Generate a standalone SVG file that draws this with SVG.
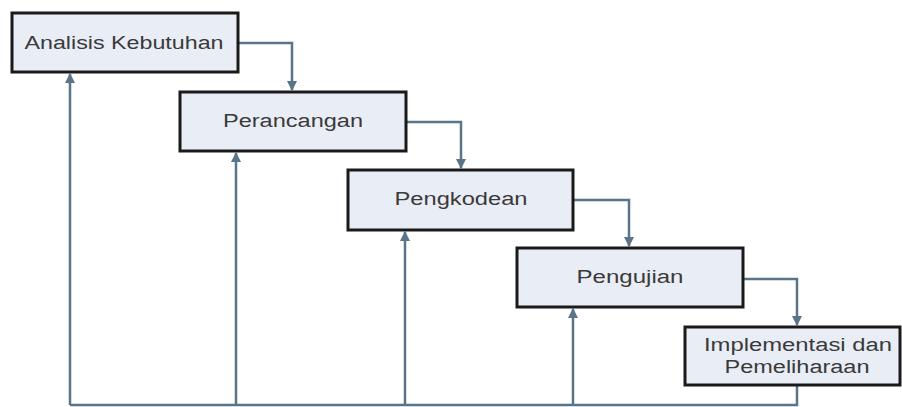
<svg xmlns="http://www.w3.org/2000/svg" width="902" height="407" viewBox="0 0 902 407">
<style>
.box{fill:#e9edf6;stroke:#1a1a1a;stroke-width:3}
.lbl{font-family:"Liberation Sans",Arial,sans-serif;font-size:18px;fill:#3a3a3a;text-anchor:middle;dominant-baseline:central}
.con{fill:none;stroke:#5a7488;stroke-width:2.5}
</style>
<defs>
<marker id="ah" viewBox="0 0 10 10" refX="9" refY="5" markerWidth="4" markerHeight="4" orient="auto" markerUnits="strokeWidth">
<path d="M0,0 L10,5 L0,10 z" fill="#5a7488"/>
</marker>
</defs>
<rect width="902" height="407" fill="#ffffff"/>
<g id="connectors">
<path class="con" d="M238,43 H292 V90" marker-end="url(#ah)"/>
<path class="con" d="M406,122 H461 V168" marker-end="url(#ah)"/>
<path class="con" d="M573,200 H629 V246" marker-end="url(#ah)"/>
<path class="con" d="M743,279 H797 V325" marker-end="url(#ah)"/>
<path class="con" d="M797,385 V405 H70"/>
<path class="con" d="M70,405 V74" marker-end="url(#ah)"/>
<path class="con" d="M236,405 V153" marker-end="url(#ah)"/>
<path class="con" d="M405,405 V232" marker-end="url(#ah)"/>
<path class="con" d="M573,405 V309" marker-end="url(#ah)"/>
</g>
<g id="n1"><rect class="box" x="12" y="13" width="226" height="59"/><text class="lbl" x="124" y="43" textLength="199" lengthAdjust="spacingAndGlyphs">Analisis Kebutuhan</text></g>
<g id="n2"><rect class="box" x="180" y="92" width="226" height="59"/><text class="lbl" x="293" y="121" textLength="140" lengthAdjust="spacingAndGlyphs">Perancangan</text></g>
<g id="n3"><rect class="box" x="348" y="170" width="225" height="60"/><text class="lbl" x="461" y="199" textLength="133" lengthAdjust="spacingAndGlyphs">Pengkodean</text></g>
<g id="n4"><rect class="box" x="517" y="248" width="226" height="59"/><text class="lbl" x="630" y="277" textLength="107" lengthAdjust="spacingAndGlyphs">Pengujian</text></g>
<g id="n5"><rect class="box" x="685" y="327" width="215" height="58"/><text class="lbl" x="798" y="345" textLength="188" lengthAdjust="spacingAndGlyphs">Implementasi dan</text><text class="lbl" x="797" y="367" textLength="145" lengthAdjust="spacingAndGlyphs">Pemeliharaan</text></g>
</svg>
